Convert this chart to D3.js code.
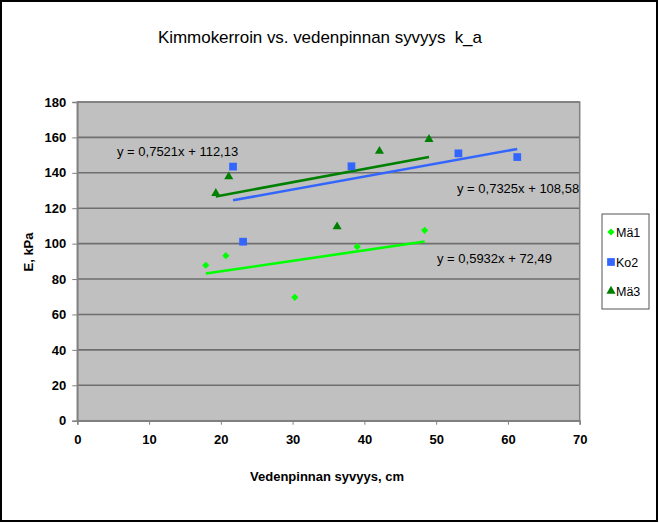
<!DOCTYPE html>
<html><head><meta charset="utf-8">
<script src="https://cdn.jsdelivr.net/npm/d3@7"></script>
<style>
html,body{margin:0;padding:0;background:#fff;}
svg text{font-family:"Liberation Sans",Arial,sans-serif;}
</style></head>
<body>
<svg id="c" width="659" height="523"></svg>
<script>
const seriesNames = ["Mä1", "Ko2", "Mä3"];
const seriesColors = ["#00ff00", "#3366ff", "#008000"];
const ma1X = [17.9, 20.7, 30.3, 39.0, 48.4];
const ma1Y = [87.8, 93.2, 69.7, 98.3, 107.5];
const ko2X = [21.7, 23.1, 38.2, 53.1, 61.3];
const ko2Y = [143.5, 101.1, 143.7, 151.0, 148.9];
const ma3X = [19.3, 21.1, 36.2, 42.1, 49.0];
const ma3Y = [128.4, 137.8, 109.6, 152.2, 158.9];
const slopes = [0.5932, 0.7325, 0.7521];
const intercepts = [72.49, 108.58, 112.13];
const eqLabels = ["y = 0,5932x + 72,49", "y = 0,7325x + 108,58", "y = 0,7521x + 112,13"];
const xTicks = [0, 10, 20, 30, 40, 50, 60, 70];
const yTicks = [0, 20, 40, 60, 80, 100, 120, 140, 160, 180];
const titleText = "Kimmokerroin vs. vedenpinnan syvyys  k_a";
const xLabel = "Vedenpinnan syvyys, cm";
const yLabel = "E, kPa";

const series = [
  {name: seriesNames[0], xs: ma1X, ys: ma1Y, color: seriesColors[0], sym: d3.symbolSquare, size: 26, rot: 45},
  {name: seriesNames[1], xs: ko2X, ys: ko2Y, color: seriesColors[1], sym: d3.symbolSquare, size: 60, rot: 0},
  {name: seriesNames[2], xs: ma3X, ys: ma3Y, color: seriesColors[2], sym: d3.symbolTriangle, size: 36, rot: 0}
];
const eqPos = [[437, 263], [457, 193], [117, 156]];

const svg = d3.select("#c");
svg.append("rect").attr("x", 1).attr("y", 1).attr("width", 656).attr("height", 520)
  .attr("fill", "#fff").attr("stroke", "#000").attr("stroke-width", 2);

const L = 77.3, R = 579.7, T = 102, B = 420.7;
const x = d3.scaleLinear().domain([0, 70]).range([L, R]);
const y = d3.scaleLinear().domain([0, 180]).range([B, T]);

svg.append("rect").attr("x", L).attr("y", T).attr("width", R - L).attr("height", B - T)
  .attr("fill", "#c0c0c0");

svg.append("g").selectAll("line").data(yTicks.filter(d => d > 0)).join("line")
  .attr("x1", L).attr("x2", R).attr("y1", d => y(d)).attr("y2", d => y(d))
  .attr("stroke", "#6e6e6e").attr("stroke-width", 1.6);

svg.append("rect").attr("x", L).attr("y", T).attr("width", R - L).attr("height", B - T)
  .attr("fill", "none").attr("stroke", "#808080").attr("stroke-width", 1.5);

const yAxis = svg.append("g").attr("transform", `translate(${L},0)`)
  .call(d3.axisLeft(y).tickValues(yTicks).tickSize(5).tickPadding(6).tickFormat(d3.format("d")));
const xAxis = svg.append("g").attr("transform", `translate(0,${B})`)
  .call(d3.axisBottom(x).tickValues(xTicks).tickSize(4).tickPadding(10).tickFormat(d3.format("d")));
[yAxis, xAxis].forEach(a => {
  a.select(".domain").attr("stroke", "#808080").attr("stroke-width", 1.5);
  a.selectAll(".tick line").attr("stroke", "#808080");
  a.selectAll("text").attr("font-size", 13).attr("font-weight", "bold").attr("fill", "#000")
    .style("font-family", '"Liberation Sans",Arial,sans-serif');
});

series.forEach((s, i) => {
  const x0 = d3.min(s.xs), x1 = d3.max(s.xs);
  svg.append("line")
    .attr("x1", x(x0)).attr("y1", y(slopes[i] * x0 + intercepts[i]))
    .attr("x2", x(x1)).attr("y2", y(slopes[i] * x1 + intercepts[i]))
    .attr("stroke", s.color).attr("stroke-width", 2.6);
});

series.forEach(s => {
  svg.append("g").selectAll("path").data(s.xs.map((v, j) => [v, s.ys[j]])).join("path")
    .attr("transform", d => `translate(${x(d[0])},${y(d[1])}) rotate(${s.rot})`)
    .attr("d", d3.symbol().type(s.sym).size(s.size))
    .attr("fill", s.color);
});

eqLabels.forEach((t, i) => {
  svg.append("text").attr("x", eqPos[i][0]).attr("y", eqPos[i][1])
    .attr("font-size", 13).attr("fill", "#000").text(t);
});

svg.append("text").attr("x", 320).attr("y", 43).attr("text-anchor", "middle")
  .attr("font-size", 17).attr("fill", "#000").attr("textLength", 324)
  .style("white-space", "pre").text(titleText);
svg.append("text").attr("x", 327).attr("y", 481).attr("text-anchor", "middle")
  .attr("font-size", 13).attr("font-weight", "bold").text(xLabel);
svg.append("text").attr("transform", "translate(33,252) rotate(-90)").attr("text-anchor", "middle")
  .attr("font-size", 13).attr("font-weight", "bold").text(yLabel);

const lg = svg.append("g");
lg.append("rect").attr("x", 602).attr("y", 214).attr("width", 47).attr("height", 95)
  .attr("fill", "#fff").attr("stroke", "#555").attr("stroke-width", 1);
const legY = [232, 262, 291];
series.forEach((s, i) => {
  lg.append("path").attr("transform", `translate(611,${legY[i]}) rotate(${s.rot})`)
    .attr("d", d3.symbol().type(s.sym).size(s.size)).attr("fill", s.color);
  lg.append("text").attr("x", 616).attr("y", legY[i] + 4.5).attr("font-size", 12.5)
    .attr("fill", "#000").text(s.name);
});
</script>
</body></html>
